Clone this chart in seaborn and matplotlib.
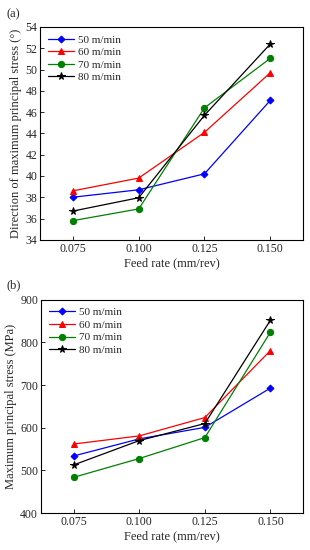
import numpy as np
import pandas as pd
import matplotlib
matplotlib.use("Agg")
import matplotlib.pyplot as plt
import seaborn as sns

# Data
feed = [0.075, 0.100, 0.125, 0.150]
speeds = ["50 m/min", "60 m/min", "70 m/min", "80 m/min"]

angle_50 = [38.0, 38.7, 40.2, 47.1]
angle_60 = [38.6, 39.8, 44.1, 49.7]
angle_70 = [35.8, 36.9, 46.4, 51.05]
angle_80 = [36.7, 37.95, 45.7, 52.4]

stress_50 = [534, 574, 601, 693]
stress_60 = [562, 581, 624, 781]
stress_70 = [484, 528, 577, 824]
stress_80 = [513, 570, 610, 852]

colors = ["#0000ff", "#ff0000", "#008000", "#000000"]
markers = ["D", "^", "o", "*"]
msizes = [3.5, 4.5, 4.5, 5.5]

sns.set_theme(style="ticks")
plt.rcParams["font.family"] = ["Liberation Serif", "DejaVu Serif"]
plt.rcParams["xtick.direction"] = "in"
plt.rcParams["ytick.direction"] = "in"

def to_long(series):
    rows = []
    for name, vals in zip(speeds, series):
        for f, v in zip(feed, vals):
            rows.append({"feed": f, "value": v, "speed": name})
    return pd.DataFrame(rows)

df_a = to_long([angle_50, angle_60, angle_70, angle_80])
df_b = to_long([stress_50, stress_60, stress_70, stress_80])

fig = plt.figure(figsize=(3.1, 5.5), dpi=100)
ax1 = fig.add_axes([0.129, 0.564, 0.849, 0.387])
ax2 = fig.add_axes([0.132, 0.067, 0.846, 0.388])


def draw(ax, df, ylabel, ylim, yticks):
    for i, name in enumerate(speeds):
        sub = df[df["speed"] == name]
        sns.lineplot(data=sub, x="feed", y="value", ax=ax, color=colors[i],
                     marker=markers[i], markersize=msizes[i], markeredgecolor=colors[i],
                     linewidth=0.9, label=name)
    ax.set_xlim(0.0625, 0.1625)
    ax.set_ylim(*ylim)
    ax.set_xticks(feed)
    ax.set_xticklabels(["0.075", "0.100", "0.125", "0.150"])
    ax.set_yticks(yticks)
    ax.tick_params(labelsize=8.5, length=3, width=0.7, pad=2)
    ax.set_xlabel("Feed rate (mm/rev)", fontsize=9, labelpad=2)
    ax.set_ylabel(ylabel, fontsize=9, labelpad=2)
    for s in ax.spines.values():
        s.set_linewidth(0.8)
        s.set_color("black")
    ax.legend(loc="upper left", fontsize=8, frameon=False, handlelength=2.4,
              labelspacing=0.25, borderaxespad=0.3, handletextpad=0.3)


draw(ax1, df_a, "Direction of maximum principal stress (°)", (34, 54),
     np.arange(34, 55, 2))
draw(ax2, df_b, "Maximum principal stress (MPa)", (400, 900),
     np.arange(400, 901, 100))

fig.text(0.02, 0.985, "(a)", fontsize=9, va="top")
fig.text(0.02, 0.493, "(b)", fontsize=9, va="top")

fig.savefig("out.png", dpi=100)
